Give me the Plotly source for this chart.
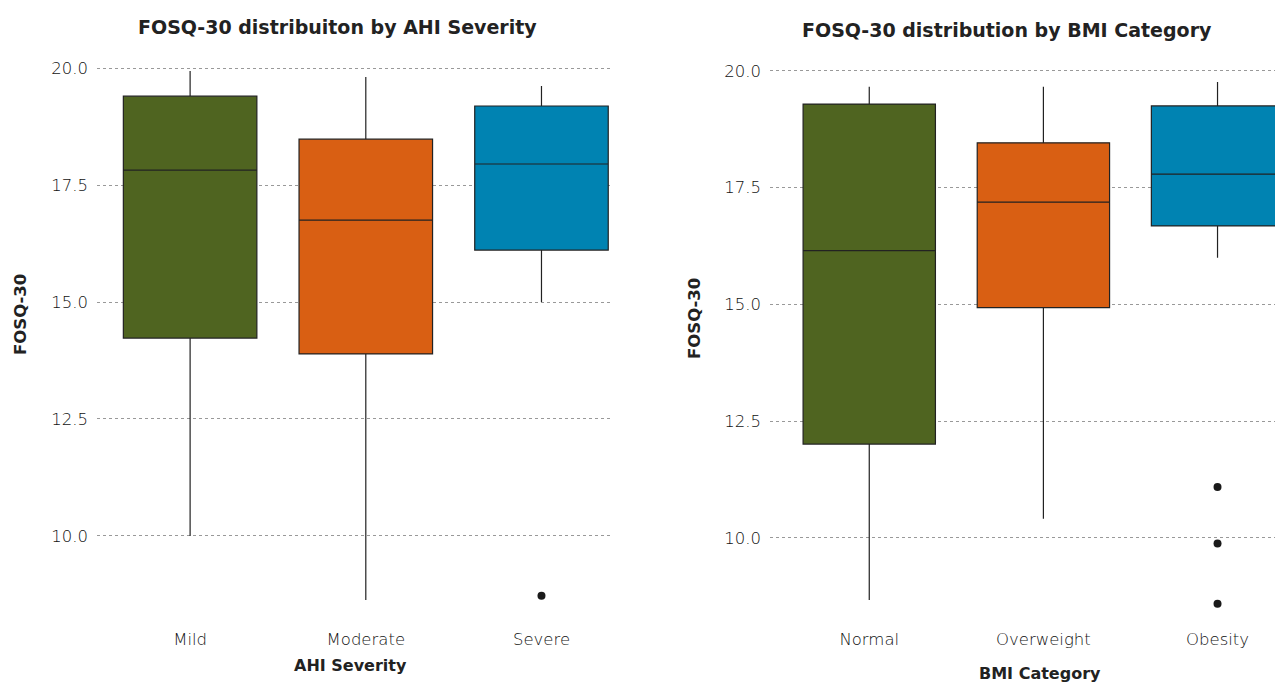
import plotly.graph_objects as go

# ---- data ----
ahi_categories = ["Mild", "Moderate", "Severe"]
ahi_lower = [10.0, 8.63, 15.0]
ahi_q1 = [14.23, 13.89, 16.11]
ahi_median = [17.82, 16.75, 17.95]
ahi_q3 = [19.40, 18.48, 19.19]
ahi_upper = [19.94, 19.81, 19.62]
ahi_outlier_x = ["Severe"]
ahi_outlier_y = [8.72]

bmi_categories = ["Normal", "Overweight", "Obesity"]
bmi_lower = [8.67, 10.41, 16.0]
bmi_q1 = [12.01, 14.93, 16.68]
bmi_median = [16.15, 17.19, 17.79]
bmi_q3 = [19.29, 18.46, 19.25]
bmi_upper = [19.66, 19.66, 19.76]
bmi_outlier_x = ["Obesity", "Obesity", "Obesity"]
bmi_outlier_y = [11.09, 9.88, 8.59]

y_ticks = [10.0, 12.5, 15.0, 17.5, 20.0]
colors = ["#4f6420", "#d95f13", "#0083b2"]

W, H = 1275, 683
FONT = "DejaVu Sans"
TXT = "#222222"

fig = go.Figure()


def add_panel(cats, lo, q1, med, q3, hi, ox, oy, xa, ya):
    for i, c in enumerate(cats):
        fig.add_trace(go.Box(
            x=[c], q1=[q1[i]], median=[med[i]], q3=[q3[i]],
            lowerfence=[lo[i]], upperfence=[hi[i]],
            fillcolor=colors[i], line=dict(color="#222222", width=1.2),
            width=0.76, whiskerwidth=0, boxpoints=False, showlegend=False,
            xaxis=xa, yaxis=ya, hoverinfo="skip",
        ))
    fig.add_trace(go.Scatter(
        x=ox, y=oy, mode="markers",
        marker=dict(color="#1a1a1a", size=8),
        showlegend=False, xaxis=xa, yaxis=ya, hoverinfo="skip",
    ))


add_panel(ahi_categories, ahi_lower, ahi_q1, ahi_median, ahi_q3, ahi_upper,
          ahi_outlier_x, ahi_outlier_y, "x", "y")
add_panel(bmi_categories, bmi_lower, bmi_q1, bmi_median, bmi_q3, bmi_upper,
          bmi_outlier_x, bmi_outlier_y, "x2", "y2")

top_px, bot_px = 55, 615
ydom = [1 - bot_px / H, 1 - top_px / H]

common_x = dict(showgrid=False, zeroline=False, showline=False, ticks="",
                tickfont=dict(family=FONT, size=16.5, color="#111111", weight=300),
                ticklabelstandoff=12, type="category")
common_y = dict(showgrid=True, gridcolor="#999999", griddash="dot", gridwidth=1,
                zeroline=False, showline=False, ticks="",
                tickvals=y_ticks, ticktext=[f"{v:.1f}" for v in y_ticks],
                tickfont=dict(family=FONT, size=16.5, color="#111111", weight=300),
                ticklabelstandoff=8)

fig.update_layout(
    width=W, height=H,
    margin=dict(l=0, r=0, t=0, b=0),
    paper_bgcolor="white", plot_bgcolor="white",
    font=dict(family=FONT, color=TXT),
    xaxis=dict(domain=[97 / W, 610 / W], range=[-0.53, 2.39],
               categoryorder="array", categoryarray=ahi_categories,
               anchor="y", **common_x),
    yaxis=dict(domain=ydom, range=[8.31, 20.28], anchor="x", **common_y),
    xaxis2=dict(domain=[770 / W, 1.0], range=[-0.57, 2.33],
                categoryorder="array", categoryarray=bmi_categories,
                anchor="y2", **common_x),
    yaxis2=dict(domain=ydom, range=[8.35, 20.34], anchor="x2", **common_y),
)

annos = [
    dict(text="<b>FOSQ-30 distribuiton by AHI Severity</b>", x=337, y=27, size=19, angle=0),
    dict(text="<b>FOSQ-30 distribution by BMI Category</b>", x=1007, y=30, size=19, angle=0),
    dict(text="<b>AHI Severity</b>", x=350, y=665, size=16, angle=0),
    dict(text="<b>BMI Category</b>", x=1040, y=673, size=16, angle=0),
    dict(text="<b>FOSQ-30</b>", x=20, y=315, size=16.5, angle=-90),
    dict(text="<b>FOSQ-30</b>", x=695, y=318, size=16.5, angle=-90),
]
for a in annos:
    fig.add_annotation(text=a["text"], x=a["x"] / W, y=1 - a["y"] / H,
                       xref="paper", yref="paper", showarrow=False,
                       xanchor="center", yanchor="middle", textangle=a["angle"],
                       font=dict(family=FONT, size=a["size"], color=TXT))

fig.write_html("out.html", config={"displayModeBar": False},
               post_script="document.body.style.margin='0';document.body.style.overflow='hidden';")
